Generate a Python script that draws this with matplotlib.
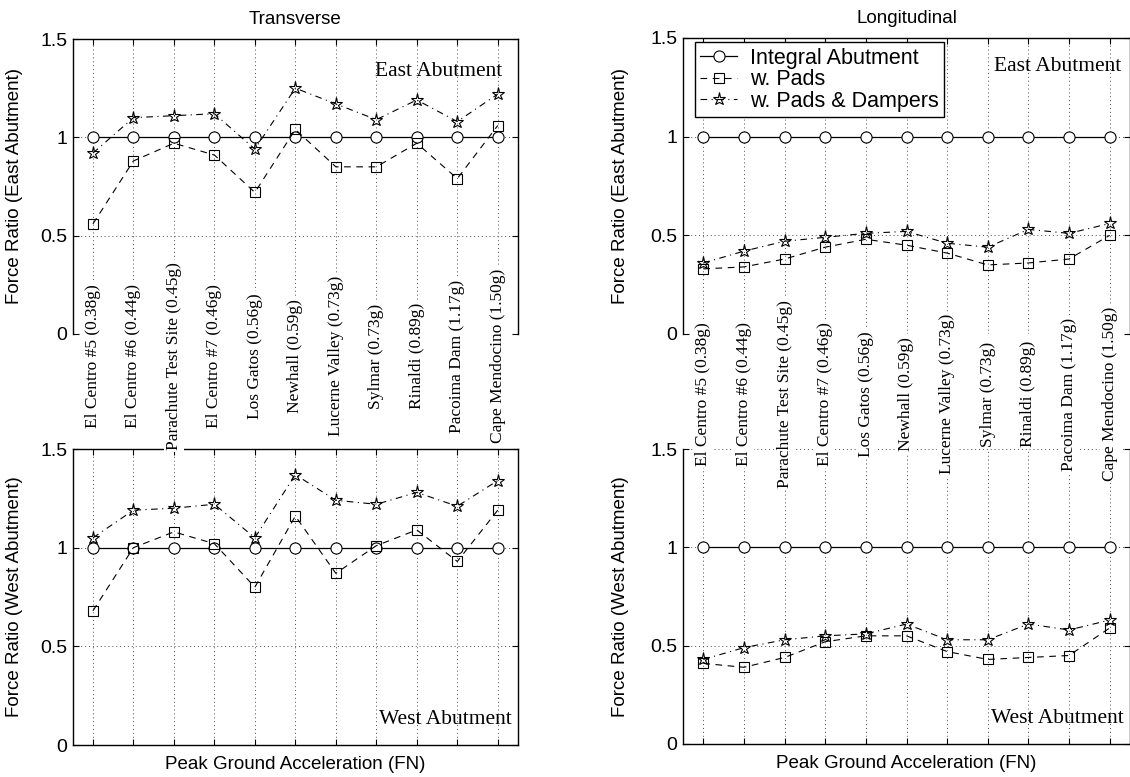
import matplotlib
matplotlib.use("Agg")
import matplotlib.pyplot as plt
from matplotlib.transforms import blended_transform_factory

# ---------------- data ----------------
quakes = ["El Centro #5 (0.38g)", "El Centro #6 (0.44g)", "Parachute Test Site (0.45g)",
          "El Centro #7 (0.46g)", "Los Gatos (0.56g)", "Newhall (0.59g)",
          "Lucerne Valley (0.73g)", "Sylmar (0.73g)", "Rinaldi (0.89g)",
          "Pacoima Dam (1.17g)", "Cape Mendocino (1.50g)"]
x_pos = [1, 2, 3, 4, 5, 6, 7, 8, 9, 10, 11]

integral = [1.0, 1.0, 1.0, 1.0, 1.0, 1.0, 1.0, 1.0, 1.0, 1.0, 1.0]

trans_east_pads = [0.56, 0.88, 0.97, 0.91, 0.72, 1.04, 0.85, 0.85, 0.97, 0.79, 1.06]
trans_east_damp = [0.92, 1.10, 1.11, 1.12, 0.94, 1.25, 1.17, 1.09, 1.19, 1.08, 1.22]
trans_west_pads = [0.68, 1.00, 1.08, 1.02, 0.80, 1.16, 0.87, 1.01, 1.09, 0.93, 1.19]
trans_west_damp = [1.05, 1.19, 1.20, 1.22, 1.05, 1.37, 1.24, 1.22, 1.28, 1.21, 1.34]
long_east_pads = [0.33, 0.34, 0.38, 0.44, 0.48, 0.45, 0.41, 0.35, 0.36, 0.38, 0.50]
long_east_damp = [0.36, 0.42, 0.47, 0.49, 0.51, 0.52, 0.46, 0.44, 0.53, 0.51, 0.56]
long_west_pads = [0.41, 0.39, 0.44, 0.52, 0.55, 0.55, 0.47, 0.43, 0.44, 0.45, 0.59]
long_west_damp = [0.43, 0.49, 0.53, 0.55, 0.56, 0.61, 0.53, 0.53, 0.61, 0.58, 0.63]

series_names = ["Integral Abutment", "w. Pads", "w. Pads & Dampers"]
y_ticks = [0, 0.5, 1, 1.5]
y_ticklabels = ["0", "0.5", "1", "1.5"]

# ---------------- style ----------------
SANS = ["Liberation Sans", "DejaVu Sans"]
SERIF = ["Liberation Serif", "DejaVu Serif"]
plt.rcParams["font.family"] = SANS
FS = 13.5
FS_TICK = 14
FS_LEG = 15.5
FS_LBL = 12.5
FS_ANN = 15.5

W, H = 1130, 777
fig = plt.figure(figsize=(W / 100, H / 100), dpi=100)


def px_axes(left, top, right, bottom):
    return [left / W, 1 - bottom / H, (right - left) / W, (bottom - top) / H]


axLT = fig.add_axes(px_axes(72.7, 39, 518, 334))
axLB = fig.add_axes(px_axes(72.7, 449, 518, 745))
axRT = fig.add_axes(px_axes(683, 38, 1130, 334))
axRB = fig.add_axes(px_axes(683, 449, 1130, 744))


def draw(ax, pads, damp, legend=False):
    ax.plot(x_pos, integral, color="k", ls="-", lw=0.9, marker="o", ms=8,
            mfc="white", mec="k", mew=0.8, label=series_names[0], zorder=3)
    ax.plot(x_pos, pads, color="k", ls=(0, (6, 5)), lw=0.8, marker="s", ms=6.5,
            mfc="none", mec="k", mew=0.8, label=series_names[1], zorder=4)
    ax.plot(x_pos, damp, color="k", ls=(0, (6, 4, 1, 4)), lw=0.8, marker="*", ms=9.5,
            mfc="none", mec="k", mew=0.8, label=series_names[2], zorder=5)
    ax.set_xlim(0.5, 11.5)
    ax.set_ylim(0, 1.5)
    ax.set_xticks(x_pos)
    ax.set_xticklabels([""] * len(x_pos))
    ax.set_yticks(y_ticks)
    ax.set_yticklabels(y_ticklabels, fontsize=FS_TICK)
    ax.tick_params(direction="in", top=True, right=True, length=4, width=0.8, pad=4)
    ax.grid(True, ls=(0, (1, 3)), color="0.3", lw=0.7)
    for s in ax.spines.values():
        s.set_linewidth(1.0)
    if legend:
        leg = ax.legend(loc="upper left", bbox_to_anchor=(0.027, 0.985), fontsize=FS_LEG,
                        frameon=True, fancybox=False, edgecolor="k", framealpha=1,
                        handlelength=1.7, handletextpad=0.6, labelspacing=0.02,
                        borderpad=0.25, borderaxespad=0)
        leg.get_frame().set_linewidth(1.0)


draw(axLT, trans_east_pads, trans_east_damp)
draw(axLB, trans_west_pads, trans_west_damp)
draw(axRT, long_east_pads, long_east_damp, legend=True)
draw(axRB, long_west_pads, long_west_damp)

# top axes: no bottom spine / ticks
for ax in (axLT, axRT):
    ax.spines["bottom"].set_visible(False)
    ax.tick_params(bottom=False)
# right-bottom: no top spine
axRB.spines["top"].set_visible(False)
axRB.tick_params(top=False)

# titles
axLT.set_title("Transverse", fontsize=FS, pad=10.5)
axRT.set_title("Longitudinal", fontsize=FS, pad=10.5)

# y labels
axLT.set_ylabel("Force Ratio (East Abutment)", fontsize=FS)
axLB.set_ylabel("Force Ratio (West Abutment)", fontsize=FS)
axRT.set_ylabel("Force Ratio (East Abutment)", fontsize=FS)
axRB.set_ylabel("Force Ratio (West Abutment)", fontsize=FS)
for ax in (axLT, axLB):
    ax.yaxis.set_label_coords(-50 / 446, 0.5)
for ax in (axRT, axRB):
    ax.yaxis.set_label_coords(-54 / 447, 0.5)

# x labels
for ax in (axLB, axRB):
    ax.set_xlabel("Peak Ground Acceleration (FN)", fontsize=FS)
    ax.xaxis.set_label_coords(0.5, -11 / 296)

# annotations
axLT.text(0.965, 0.89, "East Abutment", transform=axLT.transAxes, ha="right",
          va="center", fontsize=FS_ANN, family=SERIF)
axLB.text(0.985, 0.085, "West Abutment", transform=axLB.transAxes, ha="right",
          va="center", fontsize=FS_ANN, family=SERIF)
axRT.text(0.98, 0.905, "East Abutment", transform=axRT.transAxes, ha="right",
          va="center", fontsize=FS_ANN, family=SERIF)
axRB.text(0.985, 0.088, "West Abutment", transform=axRB.transAxes, ha="right",
          va="center", fontsize=FS_ANN, family=SERIF)

# rotated earthquake labels between the panels
for ax, ycen_px in ((axLT, 356), (axRT, 394)):
    tr = blended_transform_factory(ax.transData, fig.transFigure)
    for xi, name in zip(x_pos, quakes):
        fig.text(xi, 1 - ycen_px / H, name, transform=tr, rotation=90,
                 ha="center", va="center", fontsize=FS_LBL, family=SERIF,
                 bbox=dict(boxstyle="square,pad=0.12", fc="white", ec="none"),
                 zorder=5)

fig.savefig("out.png", dpi=100)
